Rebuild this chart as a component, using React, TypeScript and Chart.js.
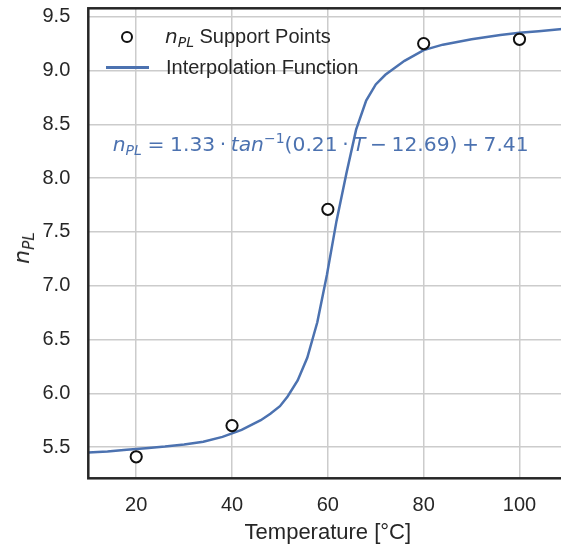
import React, { useEffect, useRef } from "react";
import { Chart, registerables } from "chart.js";

Chart.register(...registerables);

// ---- data ----
const supportT = [20, 40, 60, 80, 100];
const supportN = [5.41, 5.7, 7.71, 9.25, 9.29];

const curveT = [10, 14, 18, 22, 26, 30, 34, 38, 42, 46, 48, 50, 51.6, 53.7, 55.7, 57.8, 59.8, 61.8, 63.9, 65.9, 68, 70, 72, 76, 80, 84, 90, 96, 100, 104, 110];
const curveN = [5.45, 5.46, 5.475, 5.49, 5.505, 5.525, 5.55, 5.595, 5.66, 5.75, 5.81, 5.88, 5.97, 6.12, 6.33, 6.66, 7.1, 7.6, 8.05, 8.45, 8.72, 8.87, 8.96, 9.09, 9.19, 9.24, 9.29, 9.33, 9.35, 9.365, 9.39];

const xTickValues = [20, 40, 60, 80, 100];
const yTickValues = [5.5, 6.0, 6.5, 7.0, 7.5, 8.0, 8.5, 9.0, 9.5];
const xLimits = [10, 110];
const yLimits = [5.21, 9.578];

const BLUE = "#4c72b0";
const INK = "#262626";
const GRID = "#cccccc";
const SANS = '"Liberation Sans", Arial, Helvetica, sans-serif';
const MATH = '"DejaVu Sans", sans-serif';

const frame = {
  id: "frame",
  afterDraw(chart: any) {
    const { ctx, chartArea: a } = chart;
    ctx.save();
    ctx.strokeStyle = INK;
    ctx.lineWidth = 2.5;
    ctx.strokeRect(a.left, a.top, a.right - a.left, a.bottom - a.top);
    ctx.restore();
  },
};

const Sub = ({ children, size = 14, drop = 4.5 }: any) => (
  <span style={{ fontSize: size, position: "relative", top: drop, fontStyle: "italic" }}>{children}</span>
);

const Op = ({ ch, sp }: any) => (
  <span style={{ marginLeft: `${sp}em`, marginRight: `${sp}em` }}>{ch}</span>
);

export default function App() {
  const ref = useRef<HTMLCanvasElement | null>(null);

  useEffect(() => {
    if (!ref.current) return;
    const chart = new Chart(ref.current, {
      type: "scatter",
      data: {
        datasets: [
          {
            label: "Support Points",
            data: supportT.map((t, i) => ({ x: t, y: supportN[i] })),
            pointRadius: 5.6,
            pointBorderWidth: 2,
            pointBorderColor: "#111111",
            pointBackgroundColor: "#ffffff",
            order: 0,
          },
          {
            label: "Interpolation Function",
            data: curveT.map((t, i) => ({ x: t, y: curveN[i] })),
            showLine: true,
            borderColor: BLUE,
            borderWidth: 2.5,
            pointRadius: 0,
            fill: false,
            tension: 0,
            order: 1,
          } as any,
        ],
      },
      options: {
        animation: false,
        responsive: false,
        events: [],
        layout: { padding: { left: 0, top: 8.3, right: 5, bottom: 0 } },
        plugins: { legend: { display: false }, tooltip: { enabled: false } },
        scales: {
          x: {
            type: "linear",
            min: xLimits[0],
            max: xLimits[1],
            afterBuildTicks: (s: any) => {
              s.ticks = xTickValues.map((v) => ({ value: v }));
            },
            afterFit: (s: any) => {
              s.height = 68.7;
              s.paddingLeft = 0;
              s.paddingRight = 0;
              s.paddingTop = 0;
              s.paddingBottom = 0;
            },
            grid: { color: GRID, lineWidth: 1.5, drawTicks: false },
            border: { display: false },
            ticks: {
              color: INK,
              padding: 15,
              maxRotation: 0,
              font: { family: SANS, size: 20 },
              callback: (v: any) => String(v),
            },
            title: {
              display: true,
              text: "Temperature [°C]",
              color: INK,
              font: { family: SANS, size: 22 },
              padding: { top: 0, bottom: 1 },
            },
          },
          y: {
            type: "linear",
            min: yLimits[0],
            max: yLimits[1],
            afterBuildTicks: (s: any) => {
              s.ticks = yTickValues.map((v) => ({ value: v }));
            },
            afterFit: (s: any) => {
              s.width = 88.3;
              s.paddingLeft = 0;
              s.paddingRight = 0;
              s.paddingTop = 0;
              s.paddingBottom = 0;
            },
            grid: { color: GRID, lineWidth: 1.5, drawTicks: false },
            border: { display: false },
            ticks: {
              color: INK,
              padding: 18,
              font: { family: SANS, size: 20 },
              callback: (v: any) => Number(v).toFixed(1),
            },
          },
        },
      },
      plugins: [frame],
    } as any);
    return () => chart.destroy();
  }, []);

  return (
    <div style={{ position: "fixed", left: 0, top: 0, width: 561, height: 547, overflow: "hidden", background: "#fff" }}>
      <div style={{ position: "absolute", left: 0, top: 0, width: 575, height: 547 }}>
        <canvas ref={ref} width={575} height={547} style={{ display: "block" }} />
      </div>

      {/* legend */}
      <div
        style={{
          position: "absolute",
          left: 127.3 - 6,
          top: 36.7 - 6,
          width: 12,
          height: 12,
          boxSizing: "border-box",
          border: "2px solid #111111",
          borderRadius: "50%",
          background: "#fff",
        }}
      />
      <div style={{ position: "absolute", left: 105.7, top: 67.3 - 1.25, width: 43.3, height: 2.5, background: BLUE }} />
      <div style={{ position: "absolute", left: 165, top: 25.8, fontSize: 20, lineHeight: "20px", whiteSpace: "nowrap", color: INK, fontFamily: SANS }}>
        <span style={{ fontFamily: MATH, fontStyle: "italic" }}>n</span>
        <span style={{ fontFamily: MATH }}>
          <Sub>PL</Sub>
        </span>{" "}
        Support Points
      </div>
      <div style={{ position: "absolute", left: 166, top: 56.6, fontSize: 20, lineHeight: "20px", whiteSpace: "nowrap", color: INK, fontFamily: SANS }}>
        Interpolation Function
      </div>

      {/* equation */}
      <div style={{ position: "absolute", left: 112.7, top: 133.6, fontSize: 20.3, lineHeight: "20px", whiteSpace: "nowrap", color: BLUE, fontFamily: MATH }}>
        <i>n</i>
        <Sub>PL</Sub>
        <Op ch="=" sp={0.278} />
        1.33
        <Op ch="·" sp={0.222} />
        <i>tan</i>
        <span style={{ fontSize: 14, position: "relative", top: -8 }}>−1</span>
        (0.21
        <Op ch="·" sp={0.222} />
        <i>T</i>
        <Op ch="−" sp={0.222} />
        12.69)
        <Op ch="+" sp={0.222} />
        7.41
      </div>

      {/* y-axis title */}
      <div
        style={{
          position: "absolute",
          left: 23.4,
          top: 247.5,
          transform: "translate(-50%, -50%) rotate(-90deg)",
          fontFamily: MATH,
          fontSize: 22,
          lineHeight: "22px",
          whiteSpace: "nowrap",
          color: INK,
        }}
      >
        <i>n</i>
        <Sub size={15.4} drop={5}>PL</Sub>
      </div>
    </div>
  );
}
